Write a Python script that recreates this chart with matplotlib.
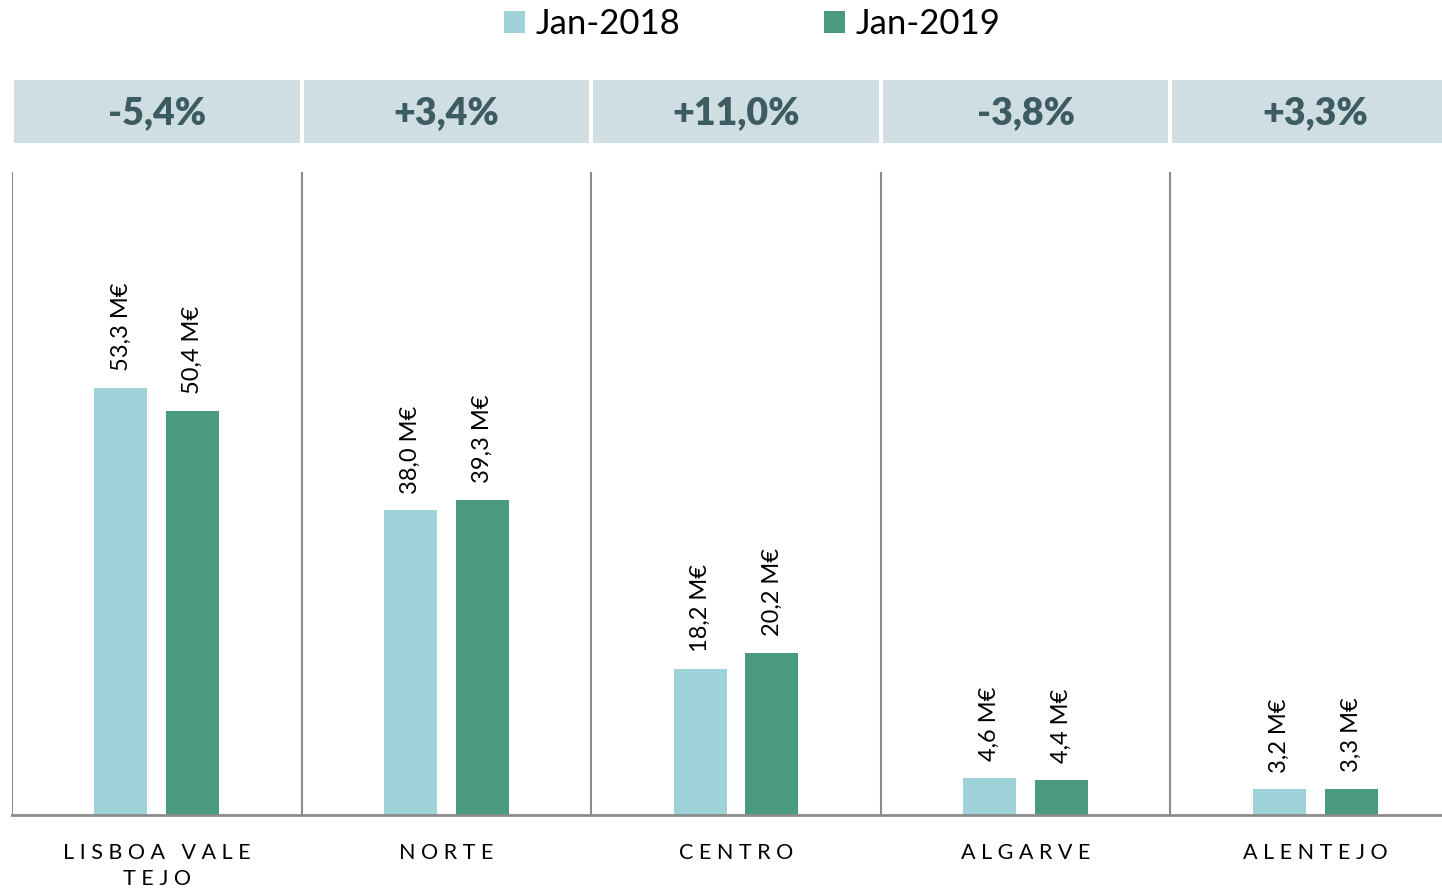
import matplotlib.pyplot as plt
from matplotlib.patches import Rectangle
from matplotlib.transforms import blended_transform_factory

plt.rcParams['font.family'] = ['Lato', 'DejaVu Sans']

# data
regions = ['L I S B O A   V A L E\nT E J O', 'N O R T E', 'C E N T R O', 'A L G A R V E', 'A L E N T E J O']
jan_2018 = [53.3, 38.0, 18.2, 4.6, 3.2]
jan_2019 = [50.4, 39.3, 20.2, 4.4, 3.3]
labels_2018 = ['53,3 M€', '38,0 M€', '18,2 M€', '4,6 M€', '3,2 M€']
labels_2019 = ['50,4 M€', '39,3 M€', '20,2 M€', '4,4 M€', '3,3 M€']
changes = ['-5,4%', '+3,4%', '+11,0%', '-3,8%', '+3,3%']

light = '#9DD3D8'
dark = '#4A9A80'

W, H = 1442, 893
fig = plt.figure(figsize=(W / 100, H / 100), dpi=100)
# last group runs off the right edge in the original
ax = fig.add_axes([12 / W, 1 - 815 / H, 5 * 289.6 / W, (815 - 172) / H])

x = list(range(len(regions)))
bw = 0.183
off = 0.124
b1 = ax.bar([i - off for i in x], jan_2018, bw, color=light, label='Jan-2018')
b2 = ax.bar([i + off for i in x], jan_2019, bw, color=dark, label='Jan-2019')

for bars, labs in ((b1, labels_2018), (b2, labels_2019)):
    for rect, lab in zip(bars, labs):
        ax.annotate(lab, (rect.get_x() + rect.get_width() / 2, rect.get_height()),
                    xytext=(0, 12), textcoords='offset points', rotation=90,
                    ha='center', va='bottom', fontsize=17, color='black')

ax.set_xlim(-0.5, 4.5)
ax.set_ylim(0, 80.2)
ax.set_yticks([])
ax.set_xticks(x)
ax.set_xticklabels(regions, fontsize=15.5, linespacing=1.4)
ax.tick_params(axis='x', length=0, pad=20)
for s in ['top', 'right', 'left']:
    ax.spines[s].set_visible(False)
ax.spines['bottom'].set_color('#8c8c8c')
ax.spines['bottom'].set_linewidth(2)

for b in [-0.5, 0.5, 1.5, 2.5, 3.5]:
    ax.axvline(b, color='#8c8c8c', lw=1.5, zorder=0)

# header boxes with the change per region
tr = blended_transform_factory(ax.transData, fig.transFigure)
gap = 2 / 289.6
for i, txt in enumerate(changes):
    ax.add_patch(Rectangle((i - 0.5 + gap, 1 - 143 / H), 1 - 2 * gap, 63 / H,
                           transform=tr, clip_on=False, facecolor='#CFDEE3',
                           edgecolor='none'))
    ax.text(i, 1 - 113 / H, txt, transform=tr, ha='center', va='center',
            fontsize=27, fontweight='heavy', color='#3D5B63')

fig.legend(handles=[b1, b2], loc='center', bbox_to_anchor=(752 / W, 1 - 24 / H),
           ncol=2, frameon=False, fontsize=25, handlelength=0.6, handleheight=0.6,
           handletextpad=0.3, columnspacing=4.15)

fig.savefig('out.png', dpi=100)
